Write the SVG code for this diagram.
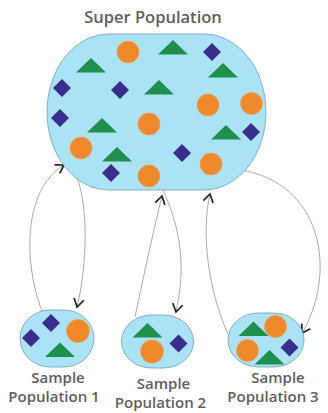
<svg xmlns="http://www.w3.org/2000/svg" xmlns:xlink="http://www.w3.org/1999/xlink" width="328" height="413" viewBox="0 0 328 413">
<style>
.blob{fill:#abe3f6;stroke:#6f9fb3;stroke-width:0.8}
.o{fill:#f0892a;stroke:#e9a060;stroke-width:0.8}
.g{fill:#1e8f4c}
.d{fill:#3a2d8c}
.lbl{font-family:"Open Sans","Liberation Sans",sans-serif;font-weight:600;fill:#5e5e5e;text-anchor:middle}
.c{fill:none;stroke:#a0a0a0;stroke-width:0.9}
</style>
<defs>
<path id="tri" d="M0,0 L15,14.5 L-15,14.5 Z"/>
<path id="dia" d="M0,-9 L9,0 L0,9 L-9,0 Z"/>
<marker id="arr" markerUnits="userSpaceOnUse" markerWidth="12" markerHeight="12" refX="9" refY="5.5" orient="auto" viewBox="0 0 12 11">
<path d="M1,0.5 L9,5.5 L1,10.5" fill="none" stroke="#222" stroke-width="1.7"/>
</marker>
</defs>

<g id="connectors">
<path class="c" d="M42,311 C24,265 22,190 64,165" marker-end="url(#arr)"/>
<path class="c" d="M66,162 C88,175 90,255 77,307" marker-end="url(#arr)"/>
<path class="c" d="M135,317 C145,270 154,228 162,196" marker-end="url(#arr)"/>
<path class="c" d="M163,190 C186,240 183,280 176,312" marker-end="url(#arr)"/>
<path class="c" d="M228,334 C208,290 201,232 210,194" marker-end="url(#arr)"/>
<path class="c" d="M240,170 C322,182 338,272 302,333" marker-end="url(#arr)"/>
</g>

<g id="super">
<rect class="blob" x="47" y="34" width="219" height="156" rx="62" ry="78"/>
<circle class="o" cx="128" cy="52" r="11"/>
<use href="#tri" class="g" x="173" y="40"/>
<use href="#dia" class="d" x="212" y="52"/>
<use href="#tri" class="g" x="91" y="58"/>
<use href="#tri" class="g" x="223" y="63"/>
<use href="#dia" class="d" x="62" y="88"/>
<use href="#dia" class="d" x="120" y="90"/>
<use href="#tri" class="g" x="159" y="80"/>
<circle class="o" cx="208" cy="105" r="11"/>
<circle class="o" cx="251.5" cy="103.5" r="11"/>
<use href="#dia" class="d" x="60" y="118"/>
<use href="#tri" class="g" x="102" y="118"/>
<circle class="o" cx="149" cy="124" r="11"/>
<use href="#tri" class="g" x="226" y="125"/>
<use href="#dia" class="d" x="251" y="132"/>
<circle class="o" cx="81" cy="148" r="11"/>
<use href="#tri" class="g" x="117" y="147"/>
<use href="#dia" class="d" x="182" y="153"/>
<circle class="o" cx="211" cy="164" r="11"/>
<use href="#dia" class="d" x="111" y="173"/>
<circle class="o" cx="149" cy="176" r="11"/>
<text class="lbl" x="153" y="23" font-size="16.5">Super Population</text>
</g>

<g id="sample1">
<rect class="blob" x="20" y="310" width="74" height="57" rx="30" ry="28.5"/>
<use href="#dia" class="d" x="31" y="338"/>
<use href="#dia" class="d" x="51" y="323"/>
<circle class="o" cx="78" cy="331" r="11.5"/>
<use href="#tri" class="g" x="60" y="342.5"/>
<text class="lbl" font-size="15"><tspan x="58" y="383">Sample</tspan><tspan x="54" y="402">Population 1</tspan></text>
</g>

<g id="sample2">
<rect class="blob" x="121.5" y="315" width="72" height="53" rx="30" ry="26.5"/>
<use href="#tri" class="g" x="147.5" y="323"/>
<circle class="o" cx="152" cy="351.5" r="11.5"/>
<use href="#dia" class="d" x="178.5" y="343.5"/>
<text class="lbl" font-size="15"><tspan x="163.5" y="389">Sample</tspan><tspan x="160.5" y="408">Population 2</tspan></text>
</g>

<g id="sample3">
<rect class="blob" x="228" y="313" width="76" height="54" rx="30" ry="27"/>
<use href="#tri" class="g" x="253.5" y="321.5"/>
<circle class="o" cx="275.5" cy="326.5" r="11"/>
<circle class="o" cx="247.5" cy="350.5" r="11"/>
<use href="#tri" class="g" x="269.5" y="350"/>
<use href="#dia" class="d" x="289.5" y="347.5"/>
<text class="lbl" font-size="15"><tspan x="278" y="383">Sample</tspan><tspan x="273" y="402">Population 3</tspan></text>
</g>
</svg>
